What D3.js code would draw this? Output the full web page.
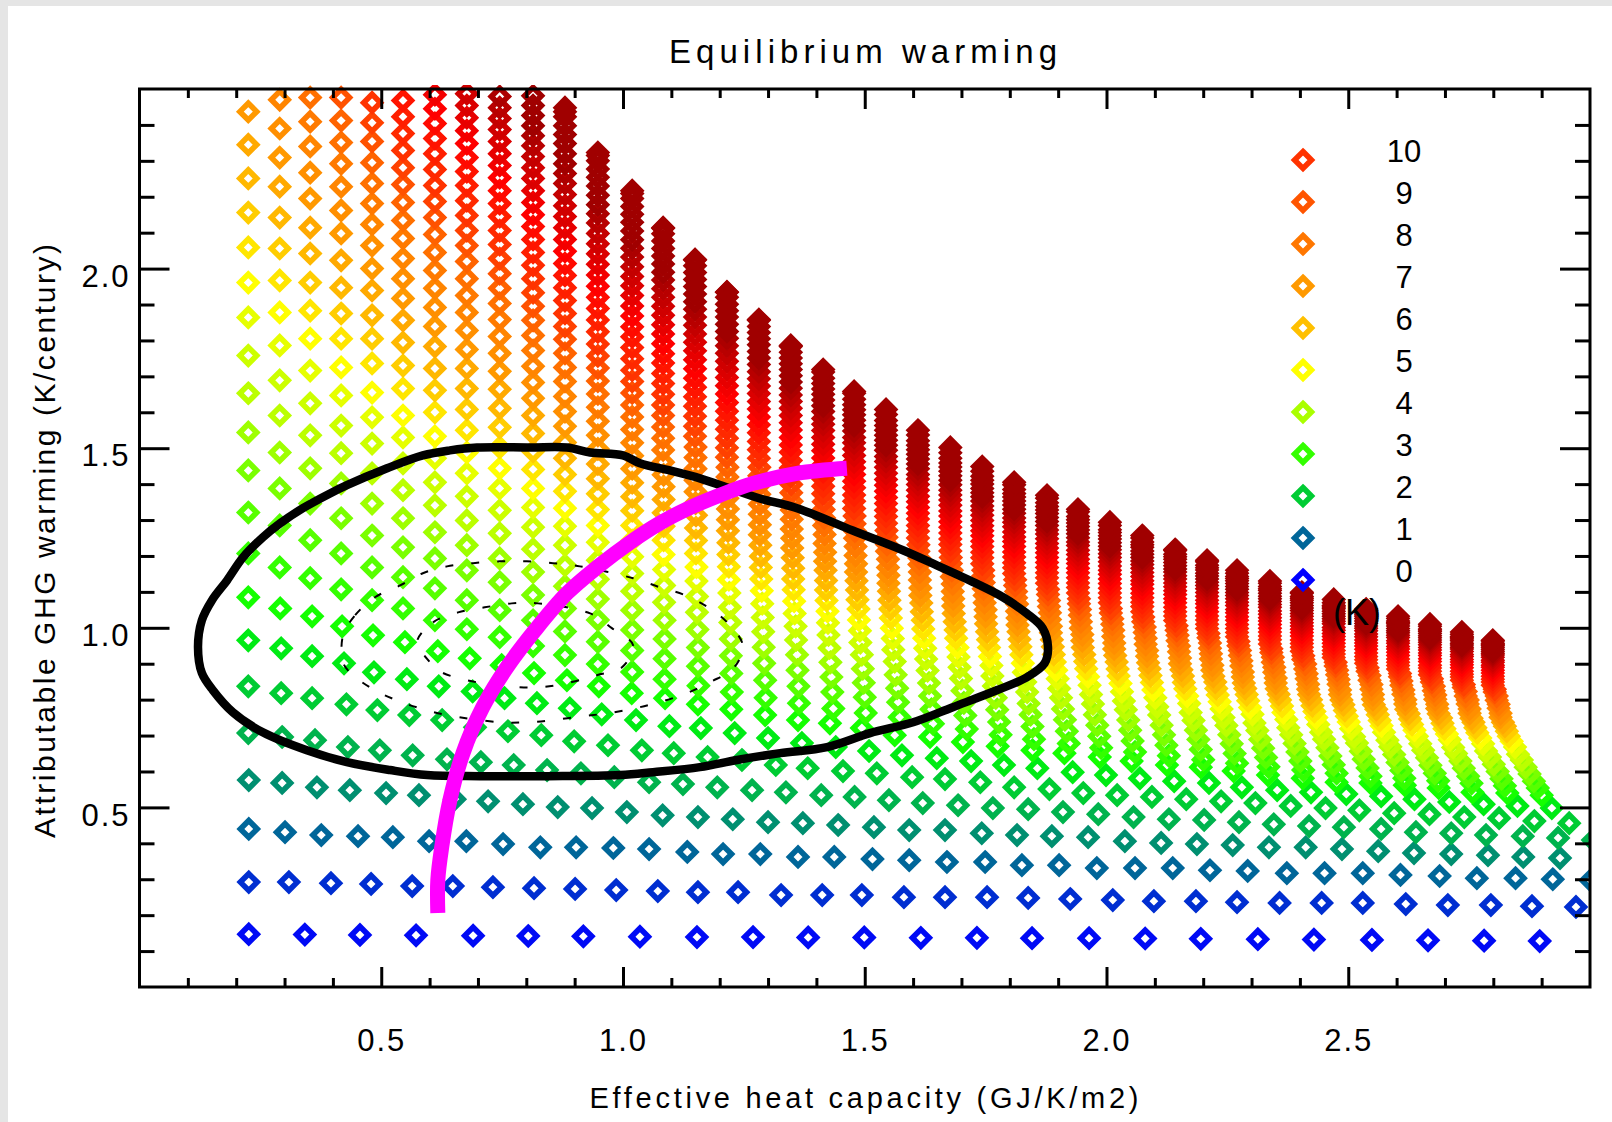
<!DOCTYPE html>
<html>
<head>
<meta charset="utf-8">
<title>Equilibrium warming</title>
<script src="https://cdn.jsdelivr.net/npm/d3@7"></script>
<style>
html, body { margin: 0; background: #e5e5e5; overflow: hidden; }
text { font-family: "Liberation Sans", sans-serif; fill: #000; }
</style>
</head>
<body>
<div id="chart"></div>
<script>
// all grid values are in thousandths: x in GJ/K/m2, y in K/century
const rowT = [0.1,0.45,1,1.4,1.75,2,2.3,2.7,3,3.3,3.6,3.9,4.2,4.4,4.7,5,5.4,5.8,6.2,6.6,7,7.3,7.6,7.9,8.2,8.6,9.1,9.6,10,10.4,10.8,11.2,11.6,12,12.5,13,13.5,14,14.5,15,15.5,16,16,16,16,16,16,16,16];
const rowStart = [0,0,0,0,0,0,0,0,0,0,0,0,0,0,0,0,0,0,0,0,0,1,1,2,2,3,3,4,4,5,5,5,6,6,6,7,7,7,8,8,8,9,9,9,9,10,10,10,10];

// x of each grid point, low rows have their own spacing
const xRow0 = [226,342,456,572,690,804,918,1035,1153,1269,1383,1499,1616,1732,1846,1964,2080,2195,2313,2429,2549,2665,2781,2896];
const xRow1 = [226,309,396,479,564,648,731,816,901,986,1072,1155,1238,1327,1412,1494,1581,1666,1753,1838,1925,2013,2098,2185,2270,2358,2445,2530,2619,2706,2795,2880,2971];
const xRow2 = [226,301,376,452,524,599,676,752,829,903,980,1054,1133,1207,1284,1362,1437,1516,1592,1670,1749,1825,1902,1980,2059,2137,2214,2292,2373,2451,2530,2608,2689,2766,2846,2923,3001];
const xRow3 = [226,295,367,435,510,578,652,721,793,865,936,1008,1082,1155,1227,1300,1372,1445,1519,1592,1666,1742,1815,1887,1962,2038,2113,2187,2261,2336,2412,2487,2562,2636,2713,2789,2862,2938];
const xRow4 = [225,295,363,431,497,565,636,706,774,843,913,982,1054,1124,1195,1267,1337,1410,1479,1550,1620,1693,1765,1838,1910,1983,2056,2129,2202,2274,2346,2419,2491,2568,2640,2713,2785,2861,2934,3006];
const xRow5 = [225,293,357,428,492,558,626,694,762,831,899,969,1039,1105,1175,1246,1316,1382,1455,1525,1598,1666,1739,1809,1882,1952,2022,2094,2165,2237,2308,2381,2453,2523,2595,2668,2740,2812,2885,2957];
const xRow6 = [225,293,357,423,485,553,619,689,755,822,890,956,1027,1096,1161,1231,1300,1370,1440,1509,1577,1649,1720,1788,1857,1930,1999,2069,2140,2212,2280,2353,2423,2496,2568,2637,2709,2780,2850,2921];
const xRow7 = [225,291,357,419,483,549,617,683,749,816,884,950,1018,1087,1155,1224,1294,1362,1428,1494,1562,1635,1703,1775,1847,1913,1986,2052,2125,2195,2263,2334,2406,2476,2546,2617,2687,2757,2829,2900];
// upper rows share their first columns, then lean off to the right
const xHead = [225,290,353,417,481,545,611,677,745,814,880,948,1019];
const xRow8 = xHead.concat([1086,1156,1225,1295,1364,1435,1502,1572,1641,1711,1781,1850,1922,1989,2059,2129,2200,2270,2335,2407,2476,2546,2616,2686,2755,2824,2892]);
const xRow9 = xHead.concat([1086,1155,1224,1294,1363,1433,1500,1569,1638,1708,1778,1847,1918,1985,2054,2124,2195,2265,2330,2401,2470,2540,2610,2679,2748,2817,2884]);
const xRow10 = xHead.concat([1086,1155,1223,1292,1361,1431,1498,1567,1635,1705,1774,1843,1914,1981,2049,2119,2190,2259,2324,2395,2463,2532,2602,2670,2739,2809,2875]);
const xRow11 = xHead.concat([1086,1154,1223,1291,1360,1429,1496,1564,1633,1702,1771,1839,1910,1976,2045,2114,2185,2254,2318,2389,2457,2526,2595,2663,2732,2801,2867]);
const xRow12 = xHead.concat([1085,1153,1222,1290,1358,1427,1494,1562,1630,1699,1767,1836,1906,1972,2040,2109,2180,2248,2312,2382,2450,2518,2587,2655,2723,2793,2859]);
const xRow13 = xHead.concat([1085,1153,1221,1289,1357,1425,1491,1559,1627,1696,1764,1832,1902,1968,2036,2105,2174,2242,2306,2376,2444,2512,2581,2649,2717,2785,2851]);
const xRow14 = xHead.concat([1085,1152,1220,1288,1355,1424,1490,1558,1625,1694,1762,1829,1899,1965,2032,2101,2171,2238,2302,2372,2438,2506,2574,2642,2710,2779,2845]);
const xRow15 = xHead.concat([1084,1152,1219,1287,1354,1423,1488,1556,1623,1692,1759,1827,1896,1962,2029,2097,2167,2234,2297,2366,2434,2501,2569,2637,2704,2773,2838]);
const xRow16 = xHead.concat([1084,1151,1219,1286,1353,1421,1487,1554,1621,1689,1757,1824,1893,1958,2025,2094,2163,2230,2293,2363,2430,2497,2565,2632,2699,2767,2832]);
const xRow17 = xHead.concat([1084,1151,1218,1285,1352,1420,1485,1553,1620,1688,1755,1822,1891,1956,2023,2091,2160,2227,2290,2359,2426,2493,2561,2628,2695,2763,2828]);
const xRow18 = xHead.concat([1084,1151,1218,1285,1352,1420,1484,1551,1618,1686,1753,1820,1889,1954,2021,2089,2158,2225,2287,2356,2423,2490,2558,2625,2692,2759,2824]);
const xRow19 = xHead.concat([1084,1151,1217,1284,1351,1419,1483,1550,1617,1684,1751,1818,1887,1951,2018,2086,2155,2221,2284,2352,2419,2486,2553,2620,2687,2755,2820]);
const xRow20 = xHead.concat([1084,1150,1217,1283,1350,1418,1482,1549,1615,1683,1750,1816,1885,1950,2016,2084,2152,2219,2282,2350,2417,2483,2551,2618,2684,2751,2815]);
const xRow22 = xHead.concat([1083,1150,1216,1283,1349,1417,1481,1548,1614,1682,1748,1815,1883,1947,2014,2081,2150,2216,2279,2347,2414,2480,2548,2614,2680,2747,2811]);
const xRow24 = xHead.concat([1083,1150,1216,1282,1349,1416,1480,1546,1613,1680,1746,1813,1881,1945,2012,2079,2147,2214,2276,2344,2411,2477,2544,2610,2677,2743,2807]);
const xRow26 = xHead.concat([1083,1149,1215,1282,1348,1415,1479,1545,1611,1678,1745,1811,1879,1943,2009,2076,2145,2211,2273,2341,2407,2474,2540,2607,2673,2739,2803]);
const xTop = xHead.concat([1083,1149,1215,1281,1347,1414,1478,1544,1610,1677,1743,1809,1877,1941,2007,2074,2142,2208,2270,2338,2404,2470,2537,2603,2669,2735,2799]);
const rowXs = [xRow0,xRow1,xRow2,xRow3,xRow4,xRow5,xRow6,xRow7,xRow8,xRow9,xRow10,xRow11,xRow12,xRow13,xRow14,xRow15,xRow16,xRow17,xRow18,xRow19,xRow20,xRow20,xRow22,xRow22,xRow24,xRow24,xRow26,xRow26,xTop,xTop,xTop,xTop,xTop,xTop,xTop,xTop,xTop,xTop,xTop,xTop,xTop,xTop,xTop,xTop,xTop,xTop,xTop,xTop,xTop];

// y of each grid point, one list per row of constant warming
const rowY = [
[147,146,145,144,143,142,141,140,139,139,138,138,137,137,136,136,135,134,133,132,131,130,129,128],
[292,292,289,287,281,281,278,275,273,270,267,264,264,256,256,256,250,250,250,248,245,242,239,239,236,234,234,234,231,228,228,225,223],
[440,431,423,420,417,406,406,398,389,389,387,384,376,370,370,362,362,356,353,348,348,339,339,331,331,331,325,323,317,317,317,312,309,303,303,300,297],
[576,568,556,548,540,534,523,517,509,501,498,487,478,473,467,459,456,451,445,437,437,428,423,420,417,406,401,398,395,389,389,384,378,373,370,367,362,359],
[707,696,687,668,659,645,634,626,618,604,595,584,570,565,556,548,542,534,529,520,512,506,498,495,487,481,473,467,465,459,453,448,445,440,431,428,423,420,415,409],
[837,818,804,787,771,757,743,723,712,701,684,673,659,651,640,632,618,609,601,595,584,579,570,556,551,540,534,529,523,517,512,504,498,492,484,481,473,470,462,456],
[965,943,921,901,876,857,837,823,804,790,776,759,743,726,721,707,693,679,668,657,645,637,629,618,609,598,590,581,573,568,556,548,542,537,531,523,515,509,504,498],
[1085,1054,1032,1004,979,960,935,915,896,874,854,837,818,804,787,773,757,743,734,721,701,696,682,670,659,651,640,629,618,612,601,590,581,570,568,562,554,542,540,534],
[1207,1168,1138,1107,1077,1054,1021,996,974,949,924,899,877,857,839,821,805,790,775,763,751,733,718,702,690,678,666,654,644,633,623,613,604,595,587,581,574,567,560,554],
[1321,1285,1244,1207,1168,1141,1110,1077,1049,1021,990,961,937,914,893,873,854,837,821,807,793,773,756,738,725,712,698,685,673,661,650,639,629,619,610,603,595,587,580,573],
[1438,1388,1346,1305,1257,1224,1193,1160,1127,1091,1054,1022,994,969,945,922,901,882,863,847,832,810,791,772,758,744,729,715,702,689,677,665,654,643,634,625,617,609,600,593],
[1544,1488,1444,1402,1346,1305,1266,1230,1193,1155,1116,1080,1049,1021,995,969,946,925,904,886,869,846,825,805,789,774,758,743,729,715,702,689,678,666,656,647,638,629,620,612],
[1653,1591,1536,1486,1430,1383,1341,1299,1263,1219,1174,1135,1102,1071,1043,1015,989,966,944,925,906,881,859,838,821,805,788,772,757,742,728,714,702,690,679,669,659,650,640,632],
[1758,1689,1625,1563,1513,1458,1405,1366,1327,1280,1230,1188,1151,1118,1087,1057,1029,1004,980,959,939,913,890,866,849,831,814,796,780,764,750,735,722,709,697,687,677,667,657,648],
[1864,1786,1716,1647,1586,1530,1472,1430,1388,1335,1283,1238,1198,1162,1130,1097,1067,1040,1014,992,970,943,919,895,876,858,840,822,805,789,774,759,745,731,719,709,698,688,677,668],
[1961,1878,1805,1725,1655,1591,1533,1488,1444,1388,1333,1285,1243,1204,1169,1134,1103,1074,1046,1022,999,971,945,920,901,882,864,845,827,810,794,778,764,750,738,727,715,704,693,684],
[2059,1967,1883,1805,1736,1666,1600,1550,1502,1441,1380,1329,1285,1244,1207,1170,1136,1106,1076,1052,1027,997,971,945,925,905,886,866,848,830,813,797,782,767,754,742,731,719,708,698],
[2156,2056,1961,1875,1805,1730,1661,1608,1558,1491,1427,1373,1326,1283,1243,1204,1168,1136,1105,1078,1052,1021,994,967,947,926,906,885,867,848,831,814,799,783,770,758,746,734,722,712],
[2251,2142,2042,1947,1870,1794,1722,1666,1611,1541,1472,1415,1365,1320,1278,1237,1199,1166,1132,1105,1077,1045,1017,989,968,947,926,905,886,866,849,831,815,800,786,773,761,749,737,726],
[2345,2228,2114,2023,1939,1856,1783,1722,1664,1591,1516,1456,1404,1357,1313,1270,1230,1195,1160,1131,1102,1069,1040,1011,989,967,945,923,903,883,865,846,830,814,799,786,773,761,748,737],
[2437,2309,2195,2098,2000,1917,1839,1775,1714,1639,1561,1498,1443,1393,1347,1301,1259,1222,1185,1155,1124,1090,1061,1031,1008,986,964,941,921,900,882,863,846,829,814,801,788,775,762,751],
[2390,2267,2162,2064,1972,1892,1828,1764,1683,1602,1536,1479,1426,1379,1331,1287,1249,1210,1178,1146,1111,1081,1050,1027,1004,981,958,937,916,896,877,860,843,827,814,800,787,774,762],
[2470,2340,2228,2123,2028,1945,1878,1811,1728,1644,1575,1515,1461,1411,1361,1316,1275,1235,1201,1168,1133,1101,1070,1046,1023,999,976,954,933,913,894,876,858,843,829,815,801,788,776],
[2409,2292,2181,2084,1995,1925,1858,1772,1686,1614,1552,1495,1443,1391,1344,1302,1260,1226,1191,1155,1122,1090,1066,1042,1017,993,971,949,928,908,890,872,856,842,827,813,799,787],
[2476,2351,2237,2134,2045,1972,1903,1814,1725,1651,1587,1528,1474,1420,1372,1328,1285,1249,1213,1176,1142,1109,1084,1059,1035,1010,987,964,943,923,904,885,869,854,840,825,810,798],
[2412,2295,2184,2095,2020,1945,1856,1764,1687,1620,1559,1503,1447,1397,1352,1306,1269,1232,1194,1160,1126,1101,1076,1051,1025,1002,979,958,937,918,899,882,867,852,837,823,810],
[2476,2354,2234,2142,2064,1986,1895,1803,1723,1654,1591,1533,1475,1423,1376,1329,1290,1252,1213,1179,1144,1118,1093,1067,1041,1017,993,972,950,931,912,894,879,864,849,834,821],
[2406,2281,2187,2106,2028,1933,1839,1757,1686,1620,1561,1501,1447,1399,1351,1311,1271,1231,1196,1160,1134,1107,1081,1054,1030,1006,984,962,942,922,904,889,873,858,842,829],
[2462,2329,2231,2148,2067,1972,1875,1790,1717,1650,1589,1528,1472,1422,1373,1332,1291,1250,1214,1178,1151,1124,1097,1070,1045,1020,998,975,955,935,917,901,885,869,854,840],
[2376,2276,2189,2106,2009,1911,1824,1749,1680,1617,1553,1496,1445,1394,1352,1310,1269,1232,1195,1167,1139,1112,1084,1059,1033,1010,987,967,946,927,911,895,879,863,849],
[2423,2320,2231,2145,2045,1947,1857,1780,1708,1643,1578,1519,1466,1414,1370,1327,1285,1247,1210,1181,1153,1125,1097,1071,1045,1022,998,977,956,937,920,904,888,871,857],
[2468,2362,2270,2181,2081,1981,1889,1810,1737,1670,1603,1543,1489,1435,1390,1346,1303,1264,1226,1197,1168,1139,1110,1084,1057,1033,1009,988,966,947,930,913,896,879,865],
[2404,2309,2217,2117,2014,1920,1838,1763,1695,1627,1565,1509,1454,1408,1363,1319,1280,1241,1211,1182,1153,1123,1096,1070,1045,1021,999,977,957,940,923,906,889,874],
[2445,2348,2253,2150,2048,1951,1868,1791,1721,1651,1587,1530,1473,1427,1380,1335,1295,1256,1226,1196,1166,1136,1109,1081,1056,1031,1009,987,967,949,932,914,897,882],
[2484,2384,2287,2184,2081,1982,1896,1818,1746,1674,1609,1551,1493,1445,1397,1351,1311,1270,1240,1209,1179,1149,1121,1093,1067,1042,1019,996,976,958,941,923,905,890],
[2420,2320,2217,2114,2012,1925,1844,1771,1697,1630,1571,1511,1462,1413,1366,1325,1284,1253,1222,1191,1160,1131,1103,1077,1051,1028,1005,984,966,948,930,912,896],
[2454,2354,2251,2145,2041,1952,1870,1795,1720,1652,1591,1530,1480,1430,1383,1341,1299,1267,1235,1204,1172,1143,1114,1088,1062,1038,1014,993,975,957,938,920,904],
[2487,2387,2281,2175,2069,1978,1895,1818,1742,1673,1611,1549,1498,1447,1399,1356,1313,1281,1248,1216,1184,1154,1125,1098,1071,1047,1023,1001,983,964,945,926,910],
[2418,2312,2206,2098,2005,1920,1842,1764,1693,1630,1567,1515,1463,1414,1370,1327,1294,1261,1229,1196,1166,1136,1109,1081,1057,1032,1011,992,973,953,934,918],
[2448,2342,2237,2127,2032,1944,1865,1785,1713,1648,1583,1530,1477,1427,1383,1339,1306,1272,1239,1206,1176,1145,1118,1090,1065,1040,1018,999,979,960,941,924],
[2479,2370,2265,2153,2057,1968,1887,1806,1733,1667,1602,1548,1494,1443,1398,1353,1319,1285,1251,1217,1186,1155,1127,1098,1073,1048,1025,1005,986,966,946,929],
[2398,2292,2178,2080,1990,1908,1825,1751,1684,1618,1563,1508,1456,1411,1365,1330,1296,1262,1227,1196,1164,1136,1107,1081,1055,1032,1012,992,972,952,935],
[2426,2320,2204,2105,2013,1929,1845,1769,1702,1634,1578,1522,1470,1423,1376,1342,1307,1272,1237,1205,1173,1144,1115,1088,1062,1039,1019,998,978,957,940],
[2454,2348,2230,2129,2035,1950,1865,1788,1719,1650,1593,1536,1483,1436,1388,1353,1318,1282,1247,1214,1182,1152,1123,1096,1070,1046,1026,1005,984,964,946],
[2481,2373,2254,2151,2056,1970,1883,1805,1735,1665,1607,1550,1496,1448,1400,1364,1328,1292,1256,1224,1191,1161,1131,1104,1077,1053,1032,1011,990,969,951],
[2398,2277,2173,2077,1989,1901,1822,1751,1680,1621,1563,1508,1459,1411,1374,1338,1301,1265,1231,1198,1167,1137,1109,1082,1058,1036,1015,994,972,954],
[2423,2300,2195,2097,2008,1920,1839,1767,1695,1636,1577,1521,1472,1422,1385,1348,1310,1273,1239,1205,1174,1143,1115,1087,1062,1041,1019,997,976,957],
[2437,2315,2209,2112,2024,1935,1856,1783,1712,1653,1594,1537,1487,1436,1398,1361,1323,1285,1250,1215,1184,1152,1124,1096,1070,1048,1026,1004,982,963],
[2448,2323,2217,2114,2025,1934,1858,1786,1719,1658,1608,1550,1502,1449,1405,1369,1330,1294,1257,1218,1188,1160,1130,1099,1079,1052,1032,1010,988,965]
];

// likelihood contours and the magenta curve, same units
const outerX = [121,129,150,181,214,255,291,338,394,429,512,586,642,698,808,884,932,1000,1035,1097,1159,1221,1283,1360,1475,1579,1649,1717,1786,1835,1868,1879,1872,1835,1773,1682,1600,1511,1422,1325,1236,1159,1062,994,843,704,595,518,429,346,255,193,152,129];
const outerY = [946,1021,1077,1132,1196,1252,1291,1333,1374,1397,1444,1480,1494,1502,1502,1502,1488,1480,1458,1438,1416,1388,1360,1333,1271,1216,1174,1132,1085,1040,999,946,901,862,826,779,737,707,668,651,632,612,598,590,587,587,590,604,626,659,709,765,826,874];
const midX = [421,446,487,539,586,636,690,746,801,855,911,1021,1076,1128,1176,1217,1248,1227,1180,1132,1076,1025,969,915,855,801,746,636,580,532,483,435,421];
const midY = [979,1035,1085,1118,1152,1171,1180,1185,1185,1180,1171,1138,1113,1091,1057,1013,949,885,849,818,793,776,762,754,743,737,737,757,776,798,829,876,904];
const innerX = [574,607,659,714,770,824,932,977,1021,998,946,894,834,781,725,677,621,597];
const innerY = [960,1015,1043,1057,1068,1068,1040,999,951,890,868,849,835,835,843,854,879,910];
const curveX = [617,617,625,642,669,710,760,818,884,946,1015,1076,1138,1200,1269,1360,1463];
const curveY = [206,298,389,520,651,779,890,993,1096,1168,1238,1291,1334,1369,1402,1430,1444];

const xMajor = [0.5,1.0,1.5,2.0,2.5];
const xMinor = [0.1,0.2,0.3,0.4,0.6,0.7,0.8,0.9,1.1,1.2,1.3,1.4,1.6,1.7,1.8,1.9,2.1,2.2,2.3,2.4,2.6,2.7,2.8,2.9];
const yMajor = [0.5,1.0,1.5,2.0];
const yMinor = [0.1,0.2,0.3,0.4,0.6,0.7,0.8,0.9,1.1,1.2,1.3,1.4,1.6,1.7,1.8,1.9,2.1,2.2,2.3,2.4];

const legendLevels = [10,9,8,7,6,5,4,3,2,1,0];
const colorStops = [0,1,2,2.5,3,4,5,6,7,8,9,10,12,16];
const colorValues = ["#0000ff","#006699","#00cc33","#00ff00","#33ff00","#aaff00","#ffff00","#ffc000","#ff9900","#ff7700","#ff5500","#ff3300","#ff0000","#a00000"];

const width = 1612, height = 1122;
const plotLeft = 139.5, plotRight = 1590, plotTop = 89, plotBottom = 987;

const x = d3.scaleLinear().domain([0, 3]).range([plotLeft, plotRight]);
const y = d3.scaleLinear().domain([0, 2.5]).range([plotBottom, plotTop]);
const color = d3.scaleLinear().domain(colorStops).range(colorValues);
const legendY = d3.scalePoint().domain(legendLevels).range([160, 580]);

const svg = d3.select("#chart").append("svg")
    .attr("width", width)
    .attr("height", height)
    .style("display", "block");

svg.append("rect").attr("width", width).attr("height", height).attr("fill", "#e5e5e5");
svg.append("rect").attr("x", 8).attr("y", 6).attr("width", width - 8).attr("height", height - 6).attr("fill", "#fff");

svg.append("clipPath").attr("id", "plot-clip")
    .append("rect").attr("x", plotLeft).attr("y", plotTop - 4).attr("width", plotRight - plotLeft).attr("height", plotBottom - plotTop + 4);

const diamond = "M0,-8.4L8.4,0L0,8.4L-8.4,0Z";

// flatten rows into points, low rows first so the hot ones end on top
const points = rowY.flatMap((ys, i) => ys.map((v, k) => ({
    x: rowXs[i][k + rowStart[i]] / 1000,
    y: v / 1000,
    t: rowT[i]
})));

svg.append("g").attr("clip-path", "url(#plot-clip)")
    .selectAll("path")
    .data(points)
    .enter().append("path")
    .attr("d", diamond)
    .attr("transform", d => `translate(${x(d.x)},${y(d.y)})`)
    .attr("fill", "none")
    .attr("stroke", d => color(d.t))
    .attr("stroke-width", 5.6);

const line = d3.line().x(d => x(d[0] / 1000)).y(d => y(d[1] / 1000));

svg.append("path")
    .attr("d", line.curve(d3.curveCatmullRomClosed)(d3.zip(outerX, outerY)))
    .attr("fill", "none").attr("stroke", "#000").attr("stroke-width", 8.5).attr("stroke-linejoin", "round");

[[midX, midY], [innerX, innerY]].forEach(c => {
    svg.append("path")
        .attr("d", line.curve(d3.curveCatmullRomClosed)(d3.zip(c[0], c[1])))
        .attr("fill", "none").attr("stroke", "#000").attr("stroke-width", 2)
        .attr("stroke-dasharray", "8,18");
});

svg.append("path")
    .attr("d", line.curve(d3.curveCatmullRom)(d3.zip(curveX, curveY)))
    .attr("fill", "none").attr("stroke", "#ff00ff").attr("stroke-width", 15);

// legend
svg.append("g").selectAll("path")
    .data(legendLevels)
    .enter().append("path")
    .attr("d", diamond)
    .attr("transform", d => `translate(1303,${legendY(d)})`)
    .attr("fill", "none")
    .attr("stroke", d => color(d))
    .attr("stroke-width", 5.6);

svg.append("g").selectAll("text")
    .data(legendLevels)
    .enter().append("text")
    .attr("x", 1404)
    .attr("y", d => legendY(d) + 2)
    .attr("text-anchor", "middle")
    .attr("font-size", 31)
    .text(d => d);

svg.append("text").attr("x", 1357).attr("y", 625).attr("text-anchor", "middle")
    .attr("font-size", 36).text("(K)");

// axes, ticks point inwards on all four sides
function tickStyle(g) {
    g.select(".domain").remove();
    g.selectAll("line").attr("stroke", "#000").attr("stroke-width", 3);
    g.selectAll("text").attr("font-size", 31).style("letter-spacing", "2px").attr("fill", "#000");
}

const fmt = d3.format(".1f");

svg.append("g").attr("transform", `translate(0,${plotBottom})`)
    .call(d3.axisBottom(x).tickValues(xMajor).tickSize(-20).tickPadding(42).tickFormat(fmt))
    .call(g => g.attr("font-family", null))
    .call(tickStyle);
svg.append("g").attr("transform", `translate(0,${plotBottom})`)
    .call(d3.axisBottom(x).tickValues(xMinor).tickSize(-9).tickFormat(""))
    .call(tickStyle);
svg.append("g").attr("transform", `translate(0,${plotTop})`)
    .call(d3.axisTop(x).tickValues(xMajor).tickSize(-20).tickFormat(""))
    .call(tickStyle);
svg.append("g").attr("transform", `translate(0,${plotTop})`)
    .call(d3.axisTop(x).tickValues(xMinor).tickSize(-9).tickFormat(""))
    .call(tickStyle);

svg.append("g").attr("transform", `translate(${plotLeft},0)`)
    .call(d3.axisLeft(y).tickValues(yMajor).tickSize(-30).tickPadding(9).tickFormat(fmt))
    .call(g => g.attr("font-family", null))
    .call(tickStyle)
    .call(g => g.selectAll("text").attr("dy", "0.57em"));
svg.append("g").attr("transform", `translate(${plotLeft},0)`)
    .call(d3.axisLeft(y).tickValues(yMinor).tickSize(-15).tickFormat(""))
    .call(tickStyle);
svg.append("g").attr("transform", `translate(${plotRight},0)`)
    .call(d3.axisRight(y).tickValues(yMajor).tickSize(-30).tickFormat(""))
    .call(tickStyle);
svg.append("g").attr("transform", `translate(${plotRight},0)`)
    .call(d3.axisRight(y).tickValues(yMinor).tickSize(-15).tickFormat(""))
    .call(tickStyle);

svg.append("rect")
    .attr("x", plotLeft).attr("y", plotTop)
    .attr("width", plotRight - plotLeft).attr("height", plotBottom - plotTop)
    .attr("fill", "none").attr("stroke", "#000").attr("stroke-width", 3);

// titles
svg.append("text").attr("x", 863).attr("y", 63).attr("text-anchor", "middle")
    .attr("font-size", 33).attr("textLength", 388).attr("lengthAdjust", "spacing")
    .text("Equilibrium warming");
svg.append("text").attr("x", 864).attr("y", 1108).attr("text-anchor", "middle")
    .attr("font-size", 29).attr("textLength", 549).attr("lengthAdjust", "spacing")
    .text("Effective heat capacity (GJ/K/m2)");
svg.append("text")
    .attr("transform", "translate(55,541) rotate(-90)")
    .attr("text-anchor", "middle")
    .attr("font-size", 30).attr("textLength", 594).attr("lengthAdjust", "spacing")
    .text("Attributable GHG warming (K/century)");
</script>
</body>
</html>
